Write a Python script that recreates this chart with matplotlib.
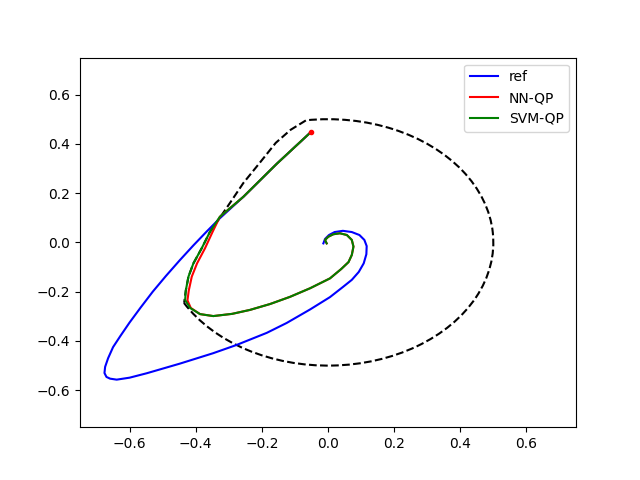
import matplotlib
matplotlib.use("Agg")
import matplotlib.pyplot as plt
from matplotlib.patches import Arc

# reference trajectory
ref_x = [-0.05, -0.155, -0.256, -0.327, -0.367, -0.407, -0.448, -0.490, -0.530, -0.567, -0.600,
         -0.628, -0.650, -0.665, -0.674, -0.676, -0.670, -0.659, -0.639, -0.600, -0.548, -0.448,
         -0.348, -0.276, -0.185, -0.125, -0.054, 0.006, 0.046, 0.072, 0.093, 0.108, 0.116,
         0.117, 0.110, 0.095, 0.072, 0.045, 0.020, 0.003, -0.009, -0.014]
ref_y = [0.45, 0.319, 0.185, 0.098, 0.044, -0.012, -0.072, -0.136, -0.200, -0.265, -0.325,
         -0.380, -0.425, -0.470, -0.505, -0.530, -0.546, -0.553, -0.557, -0.549, -0.531, -0.492,
         -0.450, -0.416, -0.367, -0.327, -0.272, -0.222, -0.180, -0.152, -0.120, -0.085, -0.048,
         -0.015, 0.010, 0.030, 0.042, 0.047, 0.042, 0.030, 0.014, -0.004]

# NN-QP trajectory
nn_x = [-0.05, -0.155, -0.256, -0.327, -0.349, -0.372, -0.396, -0.412, -0.421, -0.425, -0.415,
        -0.387, -0.347, -0.290, -0.236, -0.175, -0.115, -0.054, 0.006, 0.040, 0.062, 0.072,
        0.077, 0.072, 0.057, 0.036, 0.016, 0.001, -0.009, -0.004]
nn_y = [0.45, 0.319, 0.185, 0.104, 0.043, -0.024, -0.085, -0.139, -0.195, -0.235, -0.266,
        -0.291, -0.299, -0.290, -0.274, -0.250, -0.221, -0.186, -0.146, -0.108, -0.080, -0.051,
        -0.017, 0.010, 0.030, 0.037, 0.033, 0.023, 0.010, -0.004]

# SVM-QP trajectory
svm_x = [-0.05, -0.155, -0.256, -0.327, -0.357, -0.382, -0.407, -0.422, -0.430, -0.432, -0.417,
         -0.387, -0.347, -0.290, -0.236, -0.175, -0.115, -0.054, 0.006, 0.040, 0.062, 0.072,
         0.077, 0.072, 0.057, 0.036, 0.016, 0.001, -0.009, -0.004]
svm_y = [0.45, 0.319, 0.185, 0.104, 0.043, -0.024, -0.085, -0.139, -0.195, -0.234, -0.266,
         -0.291, -0.299, -0.290, -0.274, -0.250, -0.221, -0.186, -0.146, -0.108, -0.080, -0.051,
         -0.017, 0.010, 0.030, 0.037, 0.033, 0.023, 0.010, -0.004]

# constraint boundary: circle part and left cut
circle_radius = 0.5
arc_start_deg = 209.4
arc_end_deg = 97.7
cut_x = [-0.067, -0.113, -0.158, -0.204, -0.256, -0.295, -0.326, -0.357, -0.382, -0.407,
         -0.422, -0.430, -0.435]
cut_y = [0.495, 0.457, 0.404, 0.327, 0.241, 0.163, 0.102, 0.043, -0.024, -0.085,
         -0.139, -0.195, -0.245]

fig, ax = plt.subplots(figsize=(6.4, 4.8), dpi=100)

ax.add_patch(Arc((0, 0), 2 * circle_radius, 2 * circle_radius, theta1=arc_start_deg,
                 theta2=arc_end_deg, color="black", linestyle="--", linewidth=1.5))
ax.plot(cut_x, cut_y, "k--", linewidth=1.5)

ax.plot(ref_x, ref_y, color="blue", linewidth=1.5, label="ref")
ax.plot(nn_x, nn_y, color="red", linewidth=1.5, label="NN-QP")
ax.plot(svm_x, svm_y, color="green", linewidth=1.5, label="SVM-QP")
ax.plot([nn_x[0]], [nn_y[0]], "o", color="red", markersize=3)

ax.set_xlim(-0.75, 0.75)
ax.set_ylim(-0.75, 0.75)
ax.set_xticks([-0.6, -0.4, -0.2, 0.0, 0.2, 0.4, 0.6])
ax.set_yticks([-0.6, -0.4, -0.2, 0.0, 0.2, 0.4, 0.6])
ax.legend(loc="upper right")

fig.savefig("out.png", dpi=100)
